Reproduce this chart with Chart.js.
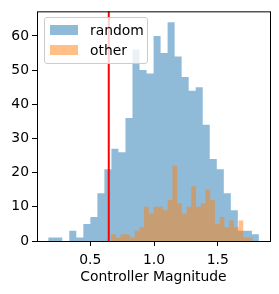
<!DOCTYPE html>
<html>
<head>
<meta charset="utf-8">
<script src="https://cdn.jsdelivr.net/npm/chart.js@4/dist/chart.umd.min.js"></script>
<style>
  body { margin: 0; background: #fff; }
  #wrap { position: relative; width: 279px; height: 294px; }
  #legend {
    position: absolute; left: 44px; top: 17px; width: 104px; height: 47px;
    box-sizing: border-box; border: 1px solid #cccccc; border-radius: 3px;
    background: rgba(255, 255, 255, 0.8);
    font-family: 'DejaVu Sans'; font-size: 13.9px; color: #000;
  }
  .item { position: absolute; left: 5px; height: 16px; line-height: 16px; white-space: nowrap; }
  .patch { position: absolute; left: 0; top: 3px; width: 28px; height: 10px; }
  .label { position: absolute; left: 40px; top: 0; }
</style>
</head>
<body>
<div id="wrap">
  <canvas id="chart" width="279" height="294"></canvas>
  <div id="legend"></div>
</div>
<script>
// histogram counts, 30 bins each
const randomCounts = [1, 1, 0, 3, 1, 5, 7, 14, 21, 27, 26, 36, 56, 50, 49, 60, 55, 64, 54, 48, 44, 45, 34, 24, 21, 14, 9, 3, 3, 2];
const randomRange = [0.170, 1.823];
const otherCounts = [2, 1, 2, 2, 1, 3, 4, 10, 8, 10, 10, 9, 12, 22, 11, 8, 10, 16, 10, 11, 15, 12, 5, 7, 4, 6, 4, 6, 1, 1];
const otherRange = [0.6625, 1.7745];
const threshold = 0.645;
const xTicks = [0.5, 1.0, 1.5];
const yTicks = [0, 10, 20, 30, 40, 50, 60];
const xLimits = [0.082, 1.91];
const yMax = 67.2;

const blueFill = 'rgba(31, 119, 180, 0.5)';
const orangeFill = 'rgba(255, 127, 14, 0.5)';
const font = { family: 'DejaVu Sans', size: 13.9 };

// left bin edges + closing edge, drawn as a stepped filled line
const histPoints = (counts, range) => {
    const w = (range[1] - range[0]) / counts.length;
    const pts = counts.map((c, i) => ({ x: range[0] + i * w, y: c }));
    pts.push({ x: range[1], y: counts[counts.length - 1] });
    return pts;
};

const frame = {
    id: 'frame',
    afterDatasetsDraw(chart) {
        const { ctx, chartArea: a } = chart;
        ctx.save();
        ctx.strokeStyle = '#000';
        ctx.lineWidth = 1;
        ctx.strokeRect(a.left + 0.5, a.top + 0.5, a.right - a.left, a.bottom - a.top);
        ctx.restore();
    }
};

const axisGrid = { display: true, drawOnChartArea: false, drawTicks: true, tickLength: 5, color: '#000', lineWidth: 1 };

const chart = new Chart(document.getElementById('chart'), {
    type: 'line',
    data: {
        datasets: [
            {
                label: 'random',
                data: histPoints(randomCounts, randomRange),
                stepped: true,
                fill: 'origin',
                backgroundColor: blueFill,
                borderColor: 'transparent',
                borderWidth: 0,
                pointRadius: 0,
                order: 2
            },
            {
                label: 'other',
                data: histPoints(otherCounts, otherRange),
                stepped: true,
                fill: 'origin',
                backgroundColor: orangeFill,
                borderColor: 'transparent',
                borderWidth: 0,
                pointRadius: 0,
                order: 1
            },
            {
                label: 'threshold',
                data: [{ x: threshold, y: 0 }, { x: threshold, y: yMax }],
                borderColor: '#ff0000',
                borderWidth: 2,
                pointRadius: 0,
                fill: false,
                order: 0
            }
        ]
    },
    options: {
        responsive: false,
        animation: false,
        devicePixelRatio: 1,
        layout: { padding: { top: 10, right: 9, left: 0, bottom: 0 } },
        plugins: {
            legend: { display: false },
            tooltip: { enabled: false }
        },
        scales: {
            x: {
                type: 'linear',
                min: xLimits[0],
                max: xLimits[1],
                afterBuildTicks: s => { s.ticks = xTicks.map(v => ({ value: v })); },
                afterFit: s => { s.height = 53; },
                ticks: { font, color: '#000', padding: 6, maxRotation: 0, callback: v => v.toFixed(1) },
                grid: axisGrid,
                border: { display: false },
                title: { display: true, text: 'Controller Magnitude', font, color: '#000', padding: { top: 0, bottom: 8 } }
            },
            y: {
                min: 0,
                max: yMax,
                afterBuildTicks: s => { s.ticks = yTicks.map(v => ({ value: v })); },
                afterFit: s => { s.width = 37; },
                ticks: { font, color: '#000', padding: 3 },
                grid: axisGrid,
                border: { display: false }
            }
        }
    },
    plugins: [frame]
});

// legend inside the axes, like the original
const legend = document.getElementById('legend');
[['random', blueFill], ['other', orangeFill]].forEach(([name, color], i) => {
    const item = document.createElement('div');
    item.className = 'item';
    item.style.top = (4 + i * 20) + 'px';
    item.innerHTML = `<span class="patch" style="background:${color}"></span><span class="label">${name}</span>`;
    legend.appendChild(item);
});
</script>
</body>
</html>
